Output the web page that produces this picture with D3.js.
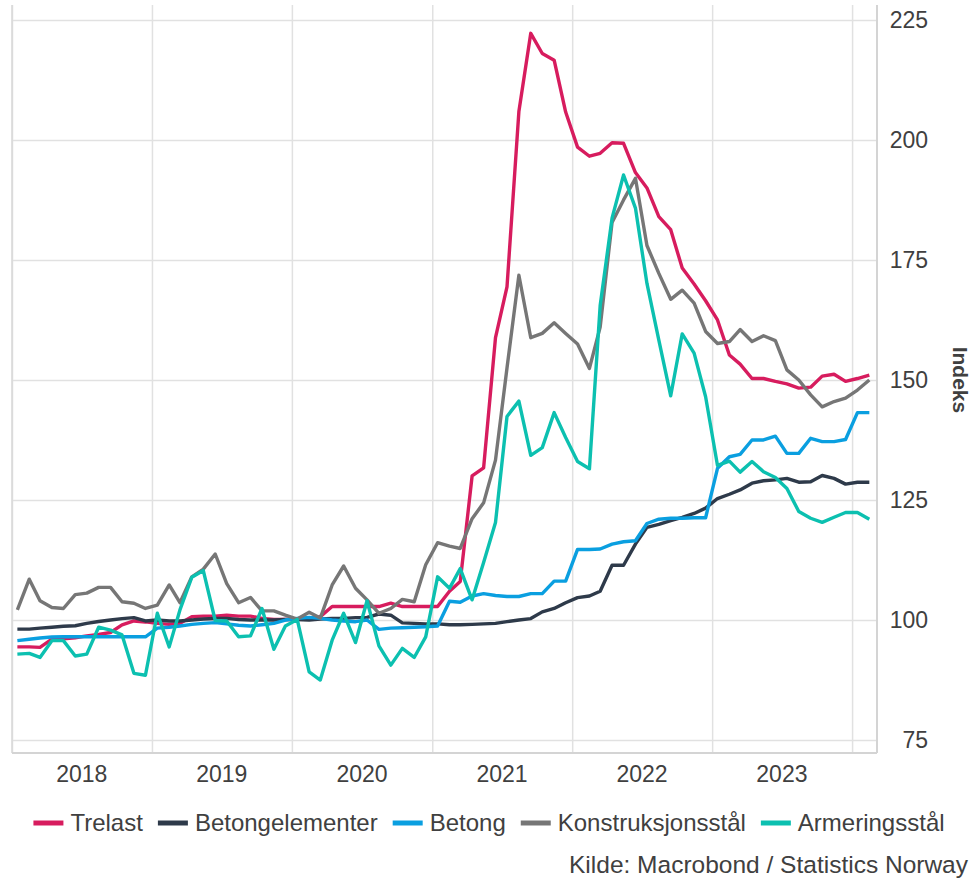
<!DOCTYPE html>
<html>
<head>
<meta charset="utf-8">
<style>
  body { margin: 0; background: #fff; }
  svg { font-family: "Liberation Sans", Arial, sans-serif; display: block; }
  .grid line { stroke: #e1e1e1; stroke-width: 1.5; }
  .grid .domain { display: none; }
  .tick-label { fill: #404040; font-size: 23px; }
</style>
</head>
<body>
<svg width="974" height="880"></svg>
<script src="https://d3js.org/d3.v7.min.js"></script>
<script>
// monthly observations, Jan 2018 .. Feb 2024
let months = d3.timeMonths(new Date(2018, 0, 1), new Date(2024, 2, 1))

let trelast = [94.4, 94.4, 94.3, 96.0, 96.1, 96.3, 96.7, 97.0, 97.4, 99.0, 99.8, 99.6,
  99.3, 99.1, 99.3, 100.7, 100.8, 100.8, 101.0, 100.8, 100.8, 100.35, 100.1, 100.1,
  100.2, 100.35, 100.7, 102.8, 102.8, 102.8, 102.8, 102.8, 103.5, 102.8, 102.8, 102.8,
  102.8, 106.0, 108.0, 130.0, 131.7, 158.8, 169.4, 205.9, 222.2, 218.0, 216.6, 205.8,
  198.5, 196.6, 197.2, 199.4, 199.3, 193.2, 190.0, 184.0, 181.3, 173.3, 170.0, 166.5,
  162.5, 155.2, 153.3, 150.3, 150.3, 149.7, 149.2, 148.3, 148.5, 150.8, 151.2, 149.7,
  150.3, 151.0]

let betongelementer = [98.1, 98.1, 98.3, 98.5, 98.7, 98.8, 99.3, 99.7, 100.0, 100.3, 100.5, 99.8,
  100.0, 99.8, 99.8, 100.0, 100.2, 100.3, 100.35, 100.1, 100.0, 100.0, 100.0, 100.1,
  100.1, 100.0, 100.2, 100.35, 100.35, 100.5, 100.55, 101.25, 101.0, 99.4, 99.3, 99.2,
  99.2, 99.0, 99.0, 99.1, 99.2, 99.3, 99.65, 100.0, 100.3, 101.7, 102.4, 103.6,
  104.65, 105.0, 106.0, 111.4, 111.4, 115.8, 119.3, 119.9, 120.7, 121.4, 122.2, 123.3,
  125.3, 126.2, 127.1, 128.5, 129.0, 129.2, 129.5, 128.7, 128.8, 130.1, 129.5, 128.3,
  128.7, 128.7]

let betong = [95.7, 96.0, 96.25, 96.45, 96.5, 96.5, 96.5, 96.5, 96.5, 96.5, 96.5, 96.5,
  98.3, 98.5, 98.75, 99.1, 99.3, 99.45, 99.2, 98.9, 98.75, 99.0, 99.3, 100.0,
  100.35, 100.55, 100.35, 100.0, 99.8, 99.65, 100.0, 98.05, 98.3, 98.4, 98.5, 98.6,
  98.75, 103.9, 103.7, 105.0, 105.5, 105.1, 104.9, 104.9, 105.5, 105.5, 108.1, 108.1,
  114.7, 114.7, 114.8, 115.8, 116.3, 116.5, 120.1, 121.0, 121.2, 121.2, 121.3, 121.3,
  131.6, 134.0, 134.5, 137.5, 137.5, 138.3, 134.7, 134.7, 137.85, 137.15, 137.15, 137.6,
  143.2, 143.2]

let konstruksjonsstal = [102.1, 108.5, 104.0, 102.6, 102.4, 105.3, 105.6, 106.8, 106.8, 103.8, 103.5, 102.4,
  103.1, 107.3, 103.6, 109.0, 110.6, 113.75, 107.6, 103.6, 104.7, 101.9, 101.9, 101.0,
  100.2, 101.6, 100.4, 107.3, 111.25, 106.6, 104.2, 101.4, 102.4, 104.3, 103.8, 111.5,
  116.1, 115.4, 114.9, 121.1, 124.4, 133.3, 152.5, 171.8, 158.8, 159.7, 161.9, 159.7,
  157.5, 152.4, 161.0, 182.8, 187.5, 192.0, 178.0, 172.2, 166.8, 168.7, 166.0, 160.1,
  157.6, 158.0, 160.5, 158.0, 159.2, 158.2, 152.1, 150.0, 146.9, 144.4, 145.5, 146.2,
  147.9, 150.0]

let armeringsstal = [92.9, 93.05, 92.2, 95.7, 95.7, 92.5, 92.9, 98.5, 97.9, 96.9, 88.9, 88.5,
  101.4, 94.4, 102.1, 108.9, 110.3, 99.9, 99.8, 96.5, 96.7, 102.4, 93.9, 98.75,
  100.1, 89.2, 87.5, 95.8, 101.4, 95.3, 104.0, 94.6, 90.6, 94.1, 92.2, 96.5,
  109.0, 106.6, 110.7, 104.2, 112.0, 120.3, 142.4, 145.6, 134.3, 135.9, 143.2, 138.0,
  133.0, 131.5, 165.5, 183.7, 192.7, 185.8, 170.1, 158.3, 146.7, 159.6, 155.6, 146.5,
  132.2, 133.1, 130.8, 133.0, 130.9, 129.7, 127.4, 122.6, 121.2, 120.35, 121.4, 122.4,
  122.4, 121.0]

let seriesNames = ["Trelast", "Betongelementer", "Betong", "Konstruksjonsstål", "Armeringsstål"]
let seriesValues = [trelast, betongelementer, betong, konstruksjonsstal, armeringsstal]
let colors = ["#d71c5e", "#2e3a4a", "#0a9fe0", "#767676", "#0cc0b0"]
let yTicks = [75, 100, 125, 150, 175, 200, 225]
let yearLabels = [2018, 2019, 2020, 2021, 2022, 2023]

let svg = d3.select("svg")
let margin = {top: 5, right: 97, bottom: 127, left: 12}
let width = 974, height = 880

let x = d3.scaleTime()
  .domain([new Date(2018, 0, 1), new Date(2024, 2, 6)])
  .range([margin.left, width - margin.right])

let y = d3.scaleLinear()
  .domain([72.3, 228.1])
  .range([height - margin.bottom, margin.top])

// horizontal grid
svg.append("g")
  .attr("class", "grid")
  .attr("transform", `translate(${margin.left},0)`)
  .call(d3.axisLeft(y).tickValues(yTicks).tickSize(-(width - margin.right - margin.left)).tickFormat(""))

// vertical grid at year starts
svg.append("g")
  .attr("class", "grid")
  .attr("transform", `translate(0,${height - margin.bottom})`)
  .call(d3.axisBottom(x).ticks(d3.timeYear.every(1)).tickSize(-(height - margin.bottom - margin.top)).tickFormat(""))

// frame: left edge, right axis, bottom axis
svg.append("line")
  .attr("x1", margin.left).attr("x2", margin.left)
  .attr("y1", margin.top).attr("y2", height - margin.bottom)
  .attr("stroke", "#d9d9d9").attr("stroke-width", 1.5)
svg.append("line")
  .attr("x1", width - margin.right).attr("x2", width - margin.right)
  .attr("y1", margin.top).attr("y2", height - margin.bottom)
  .attr("stroke", "#d4d4d4").attr("stroke-width", 2)
svg.append("line")
  .attr("x1", margin.left).attr("x2", width - margin.right)
  .attr("y1", height - margin.bottom).attr("y2", height - margin.bottom)
  .attr("stroke", "#d4d4d4").attr("stroke-width", 2)

// y labels on the right
svg.append("g")
  .selectAll("text")
  .data(yTicks)
  .join("text")
  .attr("class", "tick-label")
  .attr("x", 928)
  .attr("y", d => y(d))
  .attr("dy", "0.36em")
  .attr("text-anchor", "end")
  .text(d => d)

svg.append("text")
  .attr("transform", `translate(953,${y(150)}) rotate(90)`)
  .attr("text-anchor", "middle")
  .attr("fill", "#404040")
  .attr("font-size", "21px")
  .attr("font-weight", "bold")
  .text("Indeks")

// year labels, centred in each year
svg.append("g")
  .selectAll("text")
  .data(yearLabels)
  .join("text")
  .attr("class", "tick-label")
  .attr("x", d => x(new Date(d, 6, 2)))
  .attr("y", 782)
  .attr("text-anchor", "middle")
  .text(d => d)

// lines
let line = d3.line()
  .x((d, i) => x(d3.timeDay.offset(months[i], 14)))
  .y(d => y(d))

svg.append("g")
  .selectAll("path")
  .data(seriesValues)
  .join("path")
  .attr("d", d => line(d))
  .attr("fill", "none")
  .attr("stroke", (d, i) => colors[i])
  .attr("stroke-width", 3.4)
  .attr("stroke-linejoin", "round")

// legend
let legend = svg.append("g")
let lx = 0
seriesNames.forEach((name, i) => {
  let g = legend.append("g").attr("transform", `translate(${lx},0)`)
  g.append("line")
    .attr("x1", 0).attr("x2", 30)
    .attr("y1", 823).attr("y2", 823)
    .attr("stroke", colors[i]).attr("stroke-width", 5)
  let t = g.append("text")
    .attr("class", "tick-label")
    .attr("x", 37)
    .attr("y", 831)
    .style("font-size", "24px")
    .text(name)
  lx += 37 + t.node().getComputedTextLength() + 15
})
let legendWidth = lx - 15
legend.attr("transform", `translate(${489 - legendWidth / 2},0)`)

svg.append("text")
  .attr("class", "tick-label")
  .attr("x", 968)
  .attr("y", 873)
  .attr("text-anchor", "end")
  .style("font-size", "24.5px")
  .text("Kilde: Macrobond / Statistics Norway")
</script>
</body>
</html>
